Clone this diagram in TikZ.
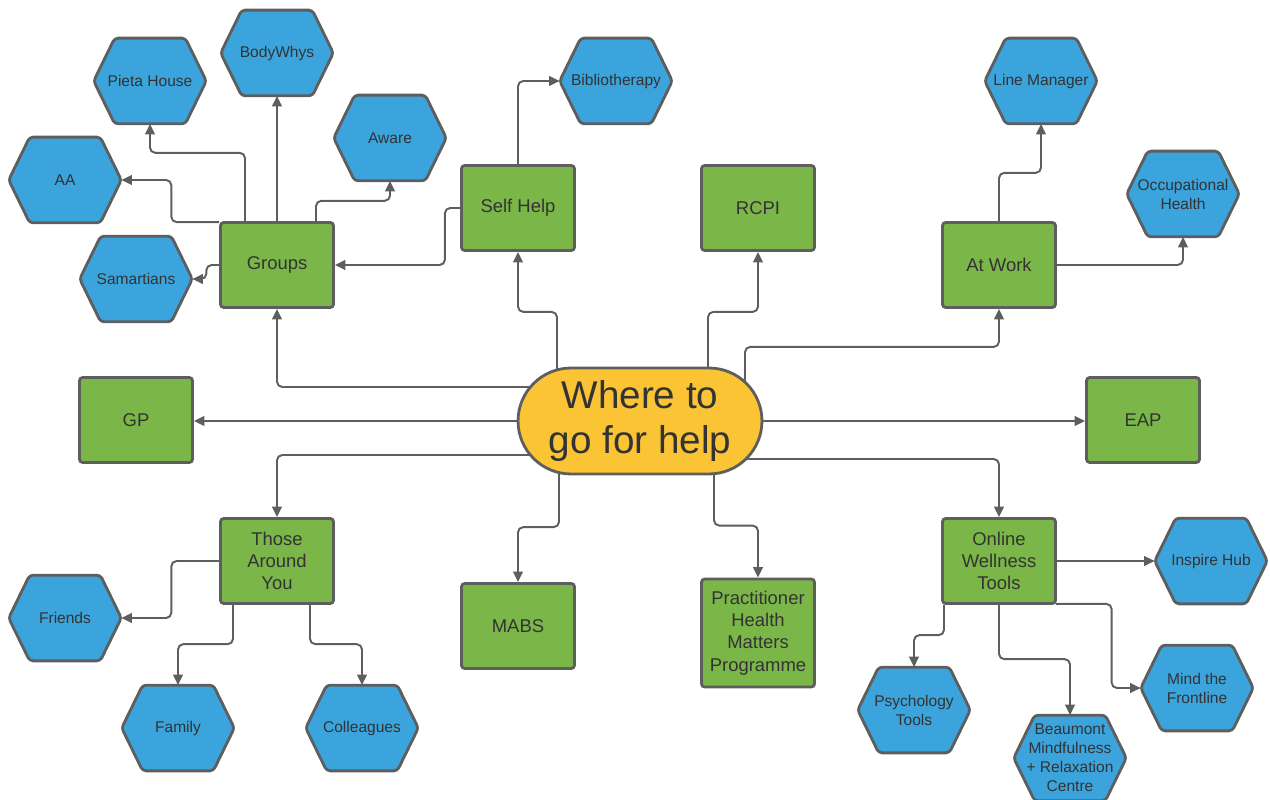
\documentclass[tikz,border=0pt]{standalone}
\usepackage{fontspec}
\setmainfont{Liberation Sans}
\usepackage{xcolor}
\usepackage{tikz}
\usetikzlibrary{shapes.misc, arrows.meta, positioning, calc, backgrounds}

\definecolor{boxgreen}{HTML}{7AB648}
\definecolor{hexblue}{HTML}{3BA4DC}
\definecolor{hubyellow}{HTML}{FBC435}
\definecolor{linegray}{HTML}{5E5E5E}
\definecolor{textgray}{HTML}{333333}

\begin{document}
\begin{tikzpicture}[x=0.02cm, y=-0.02cm,
    greenbox/.style={rectangle, draw=linegray, line width=1.6pt, rounded corners=1.8pt, fill=boxgreen, minimum width=2.26cm, minimum height=1.7cm, inner sep=1pt, align=center, text=textgray, font=\fontsize{10.5}{12.7}\selectfont},
    hexlabel/.style={rectangle, minimum width=2.24cm, minimum height=1.7cm, inner sep=0pt, align=center, text=textgray, font=\fontsize{8.85}{10.8}\selectfont},
    hexshape/.style={fill=hexblue, draw=linegray, line width=1.6pt, rounded corners=2pt},
    hub/.style={rounded rectangle, draw=linegray, line width=1.6pt, fill=hubyellow, minimum width=4.88cm, minimum height=2.12cm, inner sep=0pt, align=center, text=textgray, font=\fontsize{22}{26}\selectfont},
    conn/.style={draw=linegray, line width=1.1pt, rounded corners=3pt, -{Triangle[length=6pt, width=5.5pt]}}
  ]
  \useasboundingbox (0,0) rectangle (1270,800);

  % --- CENTRE ---
  \node[hub] (hub) at (640,421) {Where to\\go for help};

  % --- GREEN BOXES ---
  \node[greenbox] (groups) at (277,265) {Groups};
  \node[greenbox] (selfhelp) at (518,208) {Self Help};
  \node[greenbox] (rcpi) at (758,208) {RCPI};
  \node[greenbox] (atwork) at (999,265) {At Work};
  \node[greenbox] (gp) at (136,420) {GP};
  \node[greenbox] (eap) at (1143,420) {EAP};
  \node[greenbox] (those) at (277,561) {Those\\Around\\You};
  \node[greenbox] (mabs) at (518,626) {MABS};
  \node[greenbox, minimum height=2.16cm] (phmp) at (758,633) {Practitioner\\Health\\Matters\\Programme};
  \node[greenbox] (online) at (999,561) {Online\\Wellness\\Tools};

  % --- BLUE HEXAGONS ---
  \node[hexlabel] (pieta) at (150,81) {Pieta House};
  \node[hexlabel] (bodywhys) at (277,53) {BodyWhys};
  \node[hexlabel] (aware) at (390,138) {Aware};
  \node[hexlabel] (aa) at (65,180) {AA};
  \node[hexlabel] (samaritans) at (136,279) {Samartians};
  \node[hexlabel] (biblio) at (616,81) {Bibliotherapy};
  \node[hexlabel] (linemgr) at (1041,81) {Line Manager};
  \node[hexlabel] (occhealth) at (1183,194) {Occupational\\Health};
  \node[hexlabel] (friends) at (65,618) {Friends};
  \node[hexlabel] (family) at (178,728) {Family};
  \node[hexlabel] (colleagues) at (362,728) {Colleagues};
  \node[hexlabel] (inspire) at (1211,561) {Inspire Hub};
  \node[hexlabel] (mindfl) at (1197,688) {Mind the\\Frontline};
  \node[hexlabel] (psychtools) at (914,710) {Psychology\\Tools};
  \node[hexlabel] (beaumont) at (1070,758) {Beaumont\\Mindfulness\\+ Relaxation\\Centre};

  \begin{pgfonlayer}{background}
    % hexagon outlines
    \foreach \h in {pieta,bodywhys,aware,aa,samaritans,biblio,linemgr,occhealth,friends,family,colleagues,inspire,mindfl,psychtools,beaumont}
      \draw[hexshape] (\h.west) -- ([xshift=0.42cm]\h.north west) -- ([xshift=-0.42cm]\h.north east) -- (\h.east) -- ([xshift=-0.42cm]\h.south east) -- ([xshift=0.42cm]\h.south west) -- cycle;

    % --- FROM THE CENTRE ---
    \draw[conn] ($(hub.center)+(0,-34)$) -| (groups.south);
    \draw[conn] ($(hub.center)+(-83,0)$) |- ($(selfhelp.south)+(0,60)$) -- (selfhelp.south);
    \draw[conn] ($(hub.center)+(68,0)$) |- ($(rcpi.south)+(0,60)$) -- (rcpi.south);
    \draw[conn] ($(hub.center)+(105,0)$) |- ($(atwork.south)+(0,38)$) -- (atwork.south);
    \draw[conn] (hub.center) -- (hub.center -| gp.east);
    \draw[conn] (hub.center) -- (hub.center -| eap.west);
    \draw[conn] ($(hub.center)+(0,34)$) -| (those.north);
    \draw[conn] ($(hub.center)+(-81,0)$) |- ($(mabs.north)+(0,-55)$) -- (mabs.north);
    \draw[conn] ($(hub.center)+(74,0)$) |- ($(phmp.north)+(0,-52)$) -- (phmp.north);
    \draw[conn] ($(hub.center)+(0,38)$) -| (online.north);

    % --- GROUPS AND SELF HELP ---
    \draw[conn] ($(groups.north)+(-32,0)$) |- ($(pieta.south)+(0,29)$) -- (pieta.south);
    \draw[conn] (groups.north) -- (bodywhys.south);
    \draw[conn] ($(groups.north)+(39,0)$) |- ($(aware.south)+(0,20)$) -- (aware.south);
    \draw[conn] ($(groups.north west)+(0,1)$) -| ($(aa.east)+(50,0)$) -- (aa.east);
    \draw[conn] (groups.west) -| ($(samaritans.east)+(14,0)$) -- (samaritans.east);
    \draw[conn] (selfhelp.west) -| ($(groups.east)+(110,0)$) -- (groups.east);
    \draw[conn] (selfhelp.north) |- (biblio.west);

    % --- AT WORK ---
    \draw[conn] (atwork.north) |- ($(linemgr.south)+(0,49)$) -- (linemgr.south);
    \draw[conn] (atwork.east) -| (occhealth.south);

    % --- THOSE AROUND YOU ---
    \draw[conn] (those.west) -| ($(friends.east)+(50,0)$) -- (friends.east);
    \draw[conn] ($(those.south)+(-44,0)$) |- ($(family.north)+(0,-41)$) -- (family.north);
    \draw[conn] ($(those.south)+(33,0)$) |- ($(colleagues.north)+(0,-41)$) -- (colleagues.north);

    % --- ONLINE WELLNESS TOOLS ---
    \draw[conn] (online.east) -- (inspire.west);
    \draw[conn] ($(online.south)+(-55,0)$) |- ($(psychtools.north)+(0,-32)$) -- (psychtools.north);
    \draw[conn] (online.south) |- ($(beaumont.north)+(0,-56)$) -- (beaumont.north);
    \draw[conn] ($(online.south east)+(-1,-1)$) -| ($(mindfl.west)+(-29,0)$) -- (mindfl.west);
  \end{pgfonlayer}
\end{tikzpicture}
\end{document}
